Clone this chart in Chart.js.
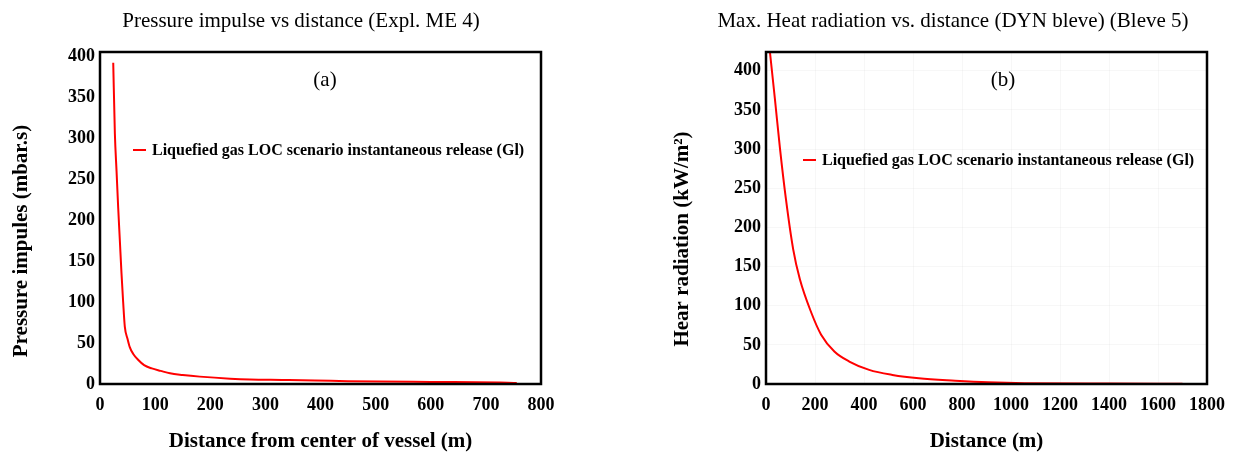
<!DOCTYPE html>
<html>
<head>
<meta charset="utf-8">
<title>Pressure impulse and heat radiation vs distance</title>
<script src="https://cdn.jsdelivr.net/npm/chart.js@4.4.1/dist/chart.umd.min.js"></script>
<style>
  html, body { margin: 0; padding: 0; background: #fff; }
  #wrap { position: relative; width: 1236px; height: 455px; }
  .panel { position: absolute; top: 0; }
</style>
</head>
<body>
<div id="wrap">
  <div class="panel" style="left:0px"><canvas id="chartA" width="600" height="455"></canvas></div>
  <div class="panel" style="left:660px"><canvas id="chartB" width="576" height="455"></canvas></div>
</div>
<script>
// (a) pressure impulse
const distA = [24, 27, 30, 33, 36, 39, 42, 45, 50, 54, 60, 70, 80, 94, 110, 127, 150, 181, 236, 272, 330, 390, 450, 508, 600, 726, 740, 756]
const impulseA = [392, 305, 260, 215, 175, 135, 100, 70, 55, 45, 37, 29, 23, 19, 16, 13, 11, 9, 6.5, 5.5, 5, 4.4, 3.5, 3, 2.5, 1.8, 1.6, 1.2]

// (b) heat radiation
const distB = [8, 16, 36, 57, 81, 111, 138, 185, 225, 279, 340, 421, 516, 624, 772, 907, 1056, 1400, 1700]
const radiationB = [445, 424, 365, 301, 237, 172, 134, 91, 63, 41.5, 28.7, 18, 11.6, 7.3, 4.3, 2.2, 1.0, 0.5, 0.3]

const yTicks = [0, 50, 100, 150, 200, 250, 300, 350, 400]

const seriesLabel = "Liquefied gas LOC scenario instantaneous release (Gl)"
const FONT = "'Liberation Serif', 'Times New Roman', serif"

// draws title, y title, black frame, the in-plot legend and the (a)/(b) tag
const framePlugin = {
  id: "frame",
  afterDraw(chart, args, opts) {
    const { ctx, chartArea: a } = chart
    ctx.save()
    ctx.strokeStyle = "#000"
    ctx.lineWidth = 2.5
    ctx.strokeRect(a.left, a.top, a.right - a.left, a.bottom - a.top)

    ctx.fillStyle = "#000"
    ctx.textBaseline = "middle"
    ctx.textAlign = "center"
    ctx.font = "21px " + FONT
    ctx.fillText(opts.title, opts.titleX, 21)

    // y axis title, a bit below the middle as in the original
    ctx.save()
    ctx.translate(opts.yTitleX, opts.yTitleY)
    ctx.rotate(-Math.PI / 2)
    ctx.font = "bold 21px " + FONT
    ctx.fillText(opts.yTitle, 0, 0)
    ctx.restore()

    // legend
    const ds = chart.data.datasets[0]
    ctx.strokeStyle = ds.borderColor
    ctx.lineWidth = 2
    ctx.beginPath()
    ctx.moveTo(opts.legendX, opts.legendY)
    ctx.lineTo(opts.legendX + 13, opts.legendY)
    ctx.stroke()
    ctx.font = "bold 16px " + FONT
    ctx.textAlign = "left"
    ctx.fillText(ds.label, opts.legendX + 19, opts.legendY + 1)

    // panel tag
    ctx.font = "21px " + FONT
    ctx.textAlign = "center"
    ctx.fillText(opts.tag, opts.tagX, opts.tagY)
    ctx.restore()
  }
}

function makeChart(id, xs, ys, cfg) {
  const points = xs.map((x, i) => ({ x: x, y: ys[i] }))
  return new Chart(document.getElementById(id), {
    type: "line",
    data: {
      datasets: [{
        label: seriesLabel,
        data: points,
        borderColor: "#ff0000",
        borderWidth: 2,
        pointRadius: 0,
        cubicInterpolationMode: "monotone",
        fill: false,
      }],
    },
    options: {
      responsive: false,
      animation: false,
      layout: { padding: { right: cfg.rightPad, top: 52, bottom: 0, left: 0 } },
      plugins: {
        legend: { display: false },
        tooltip: { enabled: false },
        title: { display: false },
        frame: cfg.frame,
      },
      scales: {
        x: {
          type: "linear",
          min: 0,
          max: cfg.xMax,
          ticks: {
            stepSize: cfg.xStep,
            color: "#000",
            padding: 11,
            maxRotation: 0,
            font: { family: FONT, size: 18, weight: "bold" },
            callback: (v) => String(v),
          },
          grid: { display: cfg.grid, color: "rgba(0,0,0,0.03)", tickLength: 0 },
          border: { display: false },
          title: {
            display: true,
            text: cfg.xTitle,
            color: "#000",
            font: { family: FONT, size: 21, weight: "bold" },
            padding: { top: 0, bottom: 1 },
          },
          afterFit: (scale) => { scale.height = 71 },
        },
        y: {
          type: "linear",
          min: 0,
          max: cfg.yMax,
          ticks: {
            color: "#000",
            padding: 5,
            font: { family: FONT, size: 18, weight: "bold" },
            callback: (v) => String(v),
          },
          afterBuildTicks: (scale) => {
            scale.ticks = yTicks.map((v) => ({ value: v }))
          },
          grid: { display: cfg.grid, color: "rgba(0,0,0,0.03)", tickLength: 0 },
          border: { display: false },
          afterFit: (scale) => { scale.width = cfg.yWidth },
        },
      },
    },
    plugins: [framePlugin],
  })
}

makeChart("chartA", distA, impulseA, {
  xTitle: "Distance from center of vessel (m)",
  xMax: 800,
  xStep: 100,
  yMax: 405,
  yWidth: 100,
  rightPad: 59,
  grid: false,
  frame: {
    title: "Pressure impulse vs distance (Expl. ME 4)", titleX: 301,
    yTitle: "Pressure impules (mbar.s)", yTitleX: 22, yTitleY: 241,
    legendX: 133, legendY: 150, tag: "(a)", tagX: 325, tagY: 80,
  },
})

makeChart("chartB", distB, radiationB, {
  xTitle: "Distance (m)",
  xMax: 1800,
  xStep: 200,
  yMax: 424,
  yWidth: 106,
  rightPad: 29,
  grid: true,
  frame: {
    title: "Max. Heat radiation vs. distance (DYN bleve) (Bleve 5)", titleX: 293,
    yTitle: "Hear radiation (kW/m\u00B2)", yTitleX: 23, yTitleY: 239,
    legendX: 143, legendY: 160, tag: "(b)", tagX: 343, tagY: 80,
  },
})
</script>
</body>
</html>
